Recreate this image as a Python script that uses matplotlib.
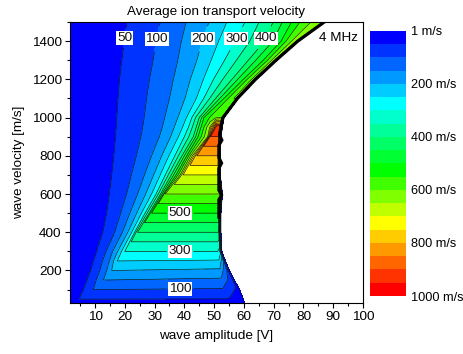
import matplotlib
matplotlib.use('Agg')
import matplotlib.pyplot as plt
from matplotlib.ticker import MultipleLocator
import numpy as np

plt.rcParams['font.family'] = ['Liberation Sans', 'DejaVu Sans']
plt.rcParams['font.size'] = 9.7

# sampled rows: wave velocity [m/s]
wave_vel = [30, 60, 100, 150, 200, 250, 300, 400, 500, 600,
            700, 800, 900, 950, 1000, 1100, 1200, 1300, 1400, 1500]

# amplitude [V] where transport velocity crosses these levels (None = not reached
# before the trapping edge)
cross_levels = [50, 100, 150, 200, 250, 300, 400, 500]
N = None
cross_amp = [
    [N, N, N, N, N, N, N, N],                          # 30
    [4.9, N, N, N, N, N, N, N],                        # 60
    [6.1, N, N, N, N, N, N, N],                        # 100
    [7.3, 10.4, N, N, N, N, N, N],                     # 150
    [8.5, 11.6, 13.9, N, N, N, N, N],                  # 200
    [9.5, 12.5, 14.8, 16.2, N, N, N, N],               # 250
    [10.5, 13.7, 15.9, 17.6, 18.9, N, N, N],           # 300
    [12.6, 16.6, 19.2, 21.0, 22.3, 23.3, N, N],        # 400
    [13.9, 18.6, 21.7, 24.0, 25.6, 26.8, 28.2, N],     # 500
    [14.8, 20.6, 24.3, 27.0, 29.0, 30.5, 32.0, 33.0],  # 600
    [15.6, 22.2, 26.6, 29.7, 31.9, 33.6, 35.6, 37.2],  # 700
    [16.3, 23.9, 29.0, 32.4, 34.8, 36.8, 39.2, 40.8],  # 800
    [16.9, 25.4, 31.6, 35.4, 38.0, 40.0, 43.0, 44.6],  # 900
    [17.1, 26.0, 32.6, 36.6, 39.4, 41.4, 44.0, 45.6],  # 950
    [17.3, 26.5, 33.4, 37.8, 40.7, 42.5, 45.0, 46.6],  # 1000
    [17.7, 27.3, 35.0, 40.2, 44.0, 46.5, 50.5, 53.3],  # 1100
    [18.2, 28.3, 36.3, 42.0, 46.4, 49.8, 56.0, 59.8],  # 1200
    [19.0, 29.5, 37.8, 44.2, 49.0, 53.5, 61.5, 66.5],  # 1300
    [19.8, 30.5, 39.0, 46.0, 51.5, 57.0, 67.0, 72.5],  # 1400
    [20.7, 31.9, 40.6, 48.3, 54.3, 60.4, 69.8, 76.0],  # 1500
]

amp_start = 1.6
edge_val = [15, 20, 18, 14, 12, 10, 8, 6, 5, 5, 4, 4, 3, 3, 3, 2.5, 2, 2, 1.5, 1.5]

# just before the trapping edge
pre_amp = [3.5, 5.6, 9.4, 12.8, 15.6, 17.5, 20.0, 24.3, 29.0, 33.3,
           38.6, 42.6, 47.8, 48.5, 48.8, 55.0, 61.5, 68.5, 75.0, 80.5]
pre_val = [30, 60, 100, 150, 200, 250, 300, 400, 500, 570,
           600, 640, 650, 650, 560, 560, 565, 570, 575, 580]
# trapping edge (ions surf with the wave)
trap_amp = [3.5, 5.6, 9.4, 12.8, 15.6, 17.5, 20.0, 24.3, 29.0, 33.6,
            39.6, 44.2, 48.8, 51.0, 50.5, 56.2, 62.3, 69.3, 76.2, 83.5]
trap_val = [30, 60, 100, 150, 200, 250, 300, 400, 500, 600,
            700, 800, 900, 950, 590, 590, 595, 600, 605, 610]
# end of the horizontal bands
rim_amp = [55.0, 54.0, 53.0, 52.5, 52.0, 51.6, 51.2, 51.0, 51.0, 51.3,
           50.8, 50.8, 50.9, 51.4, 51.8, 56.6, 62.9, 69.8, 77.0, 85.8]
rim_val = [30, 58, 95, 140, 190, 245, 300, 400, 500, 600,
           700, 800, 900, 950, 600, 600, 605, 610, 615, 620]
# last point with transport
bound_amp = [59.5, 58.8, 57.8, 56.0, 54.3, 53.0, 51.8, 51.5, 51.5, 52.0,
             51.3, 51.3, 51.5, 52.0, 52.5, 57.3, 63.4, 70.3, 77.6, 86.5]
bound_val = [20, 30, 40, 70, 100, 160, 280, 400, 500, 600,
             700, 800, 900, 950, 600, 600, 605, 610, 615, 620]

# thick edge of the transport region
outline_amp = [51.6, 51.6, 52.5, 51.6, 51.6, 52.5, 51.6, 51.6, 52.6, 51.8,
               52.4, 53.0, 57.8, 63.9, 70.8, 78.1, 87.0]
outline_vel = [480, 570, 595, 620, 735, 762, 790, 855, 882, 910,
               960, 1000, 1100, 1200, 1300, 1400, 1500]

levels = [1] + list(range(50, 1001, 50))
band_colors = ['#0000ff', '#0033ff', '#0066ff', '#0099ff', '#00ccff',
               '#00ffff', '#00ffcc', '#00ff99', '#00ff66', '#00ff33',
               '#00ff00', '#40ff00', '#80ff00', '#c0ff00', '#ffff00',
               '#ffcc00', '#ff9900', '#ff6600', '#ff3300', '#ff0000']
cbar_ticks = [1, 200, 400, 600, 800, 1000]
label_levels = [50, 100, 200, 300, 400, 500]
label_pos = [(21.2, 1412), (30.8, 1412), (46.4, 1412), (57.6, 1412), (67.7, 1412),
             (38.6, 489), (38.6, 290), (38.6, 99)]

# build the curvilinear sample mesh, row by row
X, Z = [], []
for i in range(len(wave_vel)):
    a_row = [amp_start]
    v_row = [edge_val[i]]
    for lev, a in zip(cross_levels, cross_amp[i]):
        if a is None:
            a_row.append(trap_amp[i])
            v_row.append(trap_val[i])
        else:
            a_row.append(a)
            v_row.append(lev)
    a_row += [pre_amp[i], trap_amp[i], rim_amp[i], bound_amp[i], bound_amp[i] + 0.8, 100]
    v_row += [pre_val[i], trap_val[i], rim_val[i], bound_val[i], 0, 0]
    X.append(a_row)
    Z.append(v_row)
X = np.array(X)
Z = np.array(Z, dtype=float)
Y = np.repeat(np.array(wave_vel, dtype=float)[:, None], X.shape[1], axis=1)

fig = plt.figure(figsize=(4.63, 3.54), dpi=100)
ax = fig.add_axes([0.1512, 0.1441, 0.6328, 0.7938])

cf = ax.contourf(X, Y, Z, levels=levels, colors=band_colors)
plain_levels = [l for l in levels if l not in label_levels]
ax.contour(X, Y, Z, levels=plain_levels, colors='#111111', linewidths=0.45)
cs = ax.contour(X, Y, Z, levels=label_levels, colors='#111111', linewidths=0.45)
ax.plot(outline_amp, outline_vel, color='k', lw=2.3, solid_joinstyle='miter')

labels = ax.clabel(cs, manual=label_pos, fmt='%d', fontsize=9.7,
                   inline=True, inline_spacing=2)
for t in labels:
    t.set_rotation(0)
    t.set_bbox(dict(facecolor='white', edgecolor='none', pad=0.6))

ax.text(0.983, 0.965, '4 MHz', transform=ax.transAxes, ha='right', va='top')

ax.set_xlim(1.6, 100)
ax.set_ylim(30, 1500)
ax.set_xticks(range(10, 101, 10))
ax.set_yticks(range(200, 1401, 200))
ax.xaxis.set_minor_locator(MultipleLocator(5))
ax.yaxis.set_minor_locator(MultipleLocator(100))
ax.tick_params(which='major', direction='out', length=3.5, width=0.8, pad=2.5)
ax.tick_params(which='minor', direction='out', length=2, width=0.8)
for s in ax.spines.values():
    s.set_linewidth(0.8)

ax.set_xlabel('wave amplitude [V]', labelpad=5)
ax.set_ylabel('wave velocity [m/s]', labelpad=5)
ax.set_title('Average ion transport velocity', fontsize=9.7, pad=5)

cax = fig.add_axes([0.7991, 0.1638, 0.0788, 0.7494])
cb = fig.colorbar(cf, cax=cax, ticks=cbar_ticks)
cb.ax.invert_yaxis()
cb.set_ticklabels([f'{t} m/s' for t in cbar_ticks])
cb.ax.tick_params(length=0, pad=3, labelsize=9.2)
cb.outline.set_visible(False)

fig.savefig('out.png', dpi=100)
